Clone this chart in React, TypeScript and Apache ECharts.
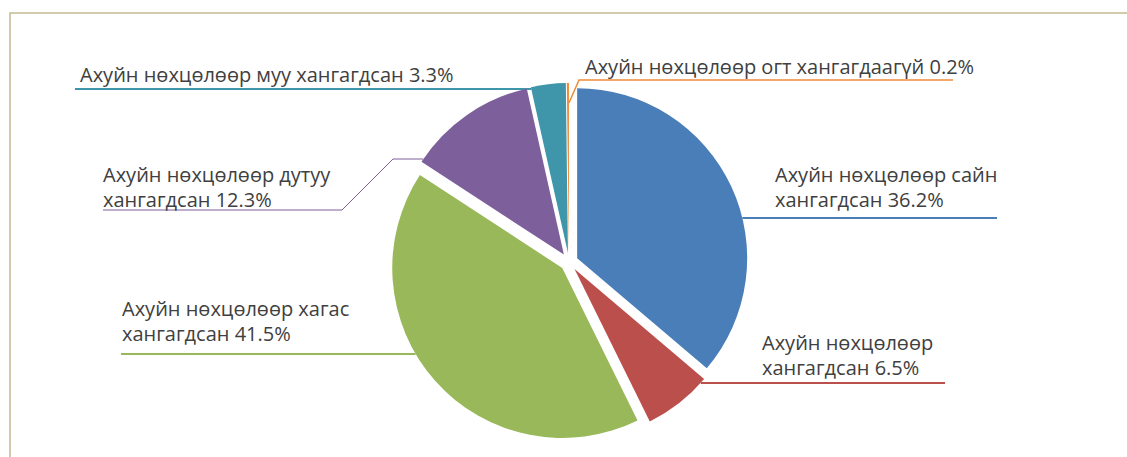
import React, { useEffect, useRef } from "react";
import * as echarts from "echarts";

// ---- data ----
const categories = [
  "Ахуйн нөхцөлөөр сайн хангагдсан",
  "Ахуйн нөхцөлөөр хангагдсан",
  "Ахуйн нөхцөлөөр хагас хангагдсан",
  "Ахуйн нөхцөлөөр дутуу хангагдсан",
  "Ахуйн нөхцөлөөр муу хангагдсан",
  "Ахуйн нөхцөлөөр огт хангагдаагүй",
];
const values = [36.2, 6.5, 41.5, 12.3, 3.3, 0.2];
const labelTexts = [
  "Ахуйн нөхцөлөөр сайн\nхангагдсан",
  "Ахуйн нөхцөлөөр\nхангагдсан",
  "Ахуйн нөхцөлөөр хагас\nхангагдсан",
  "Ахуйн нөхцөлөөр дутуу\nхангагдсан",
  "Ахуйн нөхцөлөөр муу хангагдсан",
  "Ахуйн нөхцөлөөр огт хангагдаагүй",
];
const colors = ["#4a7eb8", "#bb4f4c", "#98b85a", "#7d5f9b", "#3f95aa", "#ef8a37"];

// ---- layout / style ----
const W = 1127;
const H = 457;
const CX = 569;
const CY = 262;
const R = 170;
const OFF = 9;
const FONT = 20;
const LH = 25;

type Place = {
  x: number;
  y: number;
  side: "left" | "right";
  lineY: number;
  lineEnd: number;
  anchorY?: number;
  bends?: number[][];
  lineWidth: number;
};
const placements: Place[] = [
  { x: 775, y: 162, side: "right", lineY: 218, lineEnd: 997, lineWidth: 2 },
  { x: 762, y: 330, side: "right", lineY: 383, lineEnd: 945, lineWidth: 2 },
  { x: 122, y: 296, side: "left", lineY: 354, lineEnd: 121, lineWidth: 2 },
  { x: 103, y: 162, side: "left", lineY: 210, lineEnd: 103, anchorY: 159, bends: [[393, 159], [342, 210]], lineWidth: 1 },
  { x: 80, y: 62, side: "left", lineY: 89, lineEnd: 75, lineWidth: 2 },
  { x: 585, y: 54, side: "right", lineY: 80, lineEnd: 953, anchorY: 103, bends: [[579, 80]], lineWidth: 1.5 },
];

const total = values.reduce((a, b) => a + b, 0);
const deg = Math.PI / 180;

function sliceAnchor(i: number, y: number, side: "left" | "right"): number[] {
  let before = 0;
  for (let k = 0; k < i; k++) before += values[k];
  const start = (before / total) * 360;
  const end = ((before + values[i]) / total) * 360;
  const mid = (start + end) / 2;
  const ox = CX + OFF * Math.sin(mid * deg);
  const oy = CY - OFF * Math.cos(mid * deg);
  const cands: number[] = [];
  const dy = y - oy;
  if (Math.abs(dy) <= R) {
    const dx = Math.sqrt(R * R - dy * dy);
    for (const x of [ox - dx, ox + dx]) {
      let a = Math.atan2(x - ox, -(y - oy)) / deg;
      if (a < 0) a += 360;
      if (a >= start - 1e-6 && a <= end + 1e-6) cands.push(x);
    }
  }
  for (const a of [start, end]) {
    const c = -Math.cos(a * deg);
    if (Math.abs(c) > 1e-9) {
      const t = dy / c;
      if (t >= 0 && t <= R) cands.push(ox + t * Math.sin(a * deg));
    }
  }
  if (!cands.length) {
    return [ox + R * Math.sin(mid * deg), oy - R * Math.cos(mid * deg)];
  }
  const x = side === "left" ? Math.min(...cands) : Math.max(...cands);
  return [x, y];
}

export default function App() {
  const ref = useRef<HTMLDivElement>(null);
  useEffect(() => {
    if (!ref.current) return;
    const chart = echarts.init(ref.current, undefined, { renderer: "svg" });
    chart.setOption({
      animation: false,
      backgroundColor: "#ffffff",
      graphic: [
        {
          type: "polyline",
          shape: { points: [[10, H], [10, 13], [W, 13]] },
          style: { stroke: "#c4b98f", lineWidth: 1.5, fill: "none" },
          silent: true,
        },
      ],
      series: [
        {
          // exploded slices
          type: "pie",
          center: [CX, CY],
          radius: R,
          startAngle: 90,
          clockwise: true,
          selectedMode: "multiple",
          selectedOffset: OFF,
          emphasis: { disabled: true },
          itemStyle: { borderWidth: 0 },
          label: { show: false },
          labelLine: { show: false },
          data: categories.map((name, i) => ({
            name,
            value: values[i],
            selected: true,
            itemStyle: { color: colors[i] },
          })),
        },
        {
          // labels with leader lines
          type: "pie",
          center: [CX, CY],
          radius: R,
          startAngle: 90,
          clockwise: true,
          silent: true,
          selectedMode: false,
          avoidLabelOverlap: false,
          emphasis: { disabled: true },
          itemStyle: { color: "rgba(0,0,0,0)", borderWidth: 0 },
          label: {
            show: true,
            position: "outside",
            color: "#404040",
            fontFamily: "Open Sans",
            fontSize: FONT,
            lineHeight: LH,
            formatter: (p: any) => `${labelTexts[p.dataIndex]} ${values[p.dataIndex].toFixed(1)}%`,
          },
          labelLine: { show: true, length: 10, length2: 10, smooth: false },
          labelLayout: (p: any) => {
            const pl = placements[p.dataIndex];
            const ay = pl.anchorY !== undefined ? pl.anchorY : pl.lineY;
            const start = sliceAnchor(p.dataIndex, ay, pl.side);
            const pts: number[][] = [start];
            (pl.bends || []).forEach((b) => pts.push(b));
            pts.push([pl.lineEnd, pl.lineY]);
            if (pts.length === 2) {
              pts.splice(1, 0, [(start[0] + pl.lineEnd) / 2, pl.lineY]);
            }
            return {
              x: pl.x,
              y: pl.y,
              align: "left",
              verticalAlign: "top",
              labelLinePoints: pts,
            };
          },
          data: categories.map((name, i) => ({
            name,
            value: values[i],
            itemStyle: { color: "rgba(0,0,0,0)" },
            labelLine: { lineStyle: { width: placements[i].lineWidth, color: colors[i] } },
          })),
        },
      ],
    });
    return () => chart.dispose();
  }, []);
  return (
    <div
      ref={ref}
      style={{ position: "fixed", left: 0, top: 0, width: W, height: H, background: "#fff" }}
    />
  );
}
